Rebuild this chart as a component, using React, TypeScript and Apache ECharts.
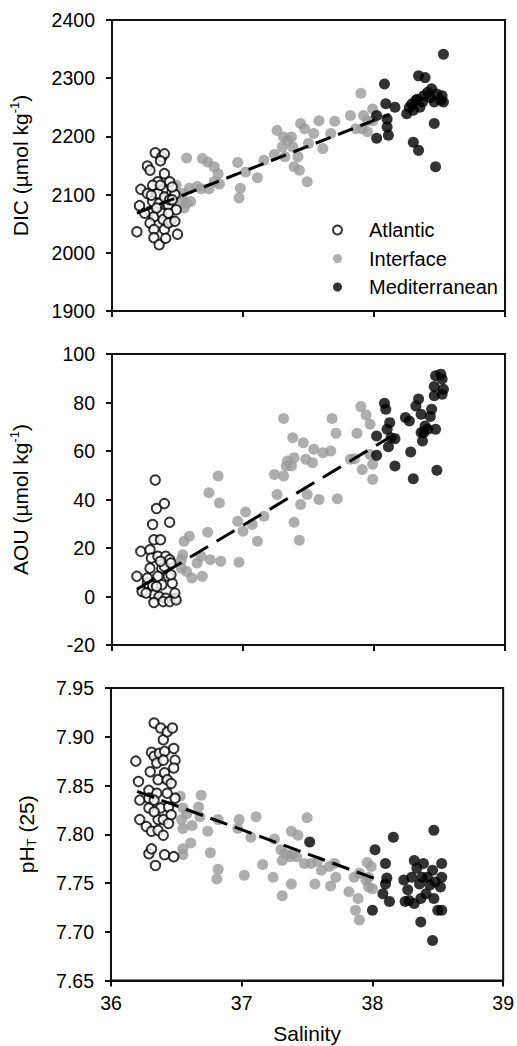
import React, { useEffect, useRef } from "react";
import * as echarts from "echarts";

const salinityTicks = [36, 37, 38, 39];
const groupNames = ["Atlantic", "Interface", "Mediterranean"];

const dicAtlantic = [[36.19,2036],[36.22,2109],[36.21,2081],[36.27,2149],[36.29,2142],[36.33,2172],[36.38,2165],[36.40,2170],[36.37,2158],[36.40,2136],[36.44,2122],[36.35,2122],[36.31,2116],[36.39,2108],[36.27,2102],[36.31,2088],[36.36,2085],[36.43,2082],[36.48,2100],[36.49,2074],[36.29,2071],[36.32,2062],[36.38,2068],[36.39,2057],[36.45,2054],[36.29,2051],[36.32,2040],[36.40,2040],[36.43,2051],[36.32,2026],[36.36,2014],[36.41,2025],[36.50,2032],[36.48,2054],[36.35,2102],[36.40,2096],[36.44,2091],[36.34,2077],[36.43,2068],[36.46,2091],[36.30,2099],[36.37,2116],[36.25,2068],[36.46,2113]];
const dicInterface = [[36.49,2116],[36.57,2163],[36.54,2102],[36.57,2085],[36.53,2091],[36.55,2077],[36.60,2088],[36.59,2111],[36.65,2114],[36.68,2110],[36.69,2162],[36.73,2156],[36.74,2110],[36.78,2148],[36.81,2136],[36.82,2118],[36.78,2122],[36.96,2155],[36.98,2111],[36.97,2094],[37.02,2139],[37.11,2129],[37.16,2159],[37.24,2169],[37.26,2210],[37.30,2182],[37.31,2199],[37.32,2165],[37.37,2199],[37.38,2182],[37.39,2148],[37.43,2142],[37.44,2222],[37.47,2213],[37.49,2122],[37.50,2188],[37.54,2205],[37.58,2227],[37.61,2179],[37.67,2205],[37.70,2226],[37.82,2236],[37.86,2213],[37.90,2274],[37.91,2213],[37.92,2236],[37.95,2208],[37.99,2247],[37.99,2227],[37.95,2227],[37.34,2193],[37.42,2165]];
const dicMediterranean = [[38.08,2290],[38.02,2236],[38.02,2197],[38.09,2256],[38.10,2230],[38.10,2216],[38.11,2202],[38.16,2250],[38.25,2239],[38.27,2250],[38.29,2256],[38.30,2190],[38.34,2176],[38.33,2264],[38.34,2304],[38.37,2259],[38.39,2301],[38.38,2270],[38.41,2276],[38.43,2267],[38.44,2282],[38.46,2259],[38.46,2222],[38.47,2148],[38.48,2273],[38.51,2262],[38.52,2270],[38.53,2259],[38.53,2341],[38.30,2245],[38.35,2250],[38.32,2262]];
const dicFit = [[36.19,2068],[38.12,2238]];

const aouAtlantic = [[36.19,8.3],[36.22,18.6],[36.23,2.1],[36.29,11.7],[36.29,19.3],[36.31,29.7],[36.33,48.0],[36.34,36.3],[36.32,23.4],[36.37,23.4],[36.40,38.3],[36.44,30.6],[36.30,15.9],[36.35,16.6],[36.41,16.6],[36.44,15.2],[36.38,11.7],[36.40,12.4],[36.35,8.3],[36.43,8.3],[36.46,5.5],[36.27,5.5],[36.31,4.4],[36.38,4.8],[36.32,0.7],[36.36,0.0],[36.41,-0.7],[36.48,-0.7],[36.32,-2.5],[36.39,-2.1],[36.44,-2.1],[36.49,-1.4],[36.27,7.6],[36.45,9.0],[36.34,4.1],[36.48,1.4],[36.26,1.4],[36.37,14.5],[36.45,13.8]];
const aouInterface = [[36.53,11.7],[36.55,22.8],[36.59,24.8],[36.54,17.2],[36.53,15.2],[36.57,10.3],[36.61,7.6],[36.65,13.8],[36.68,16.6],[36.69,8.3],[36.73,26.5],[36.74,42.8],[36.75,15.2],[36.81,49.7],[36.82,38.6],[36.83,14.5],[36.97,14.1],[36.96,31.0],[37.00,26.9],[37.02,34.8],[37.07,29.7],[37.11,22.8],[37.16,33.1],[37.24,50.3],[37.26,42.1],[37.31,73.4],[37.31,49.7],[37.33,53.8],[37.34,55.9],[37.37,53.8],[37.38,65.5],[37.39,30.6],[37.39,57.2],[37.43,23.2],[37.44,37.9],[37.46,63.4],[37.48,56.6],[37.49,42.1],[37.53,55.2],[37.54,60.7],[37.58,40.0],[37.61,59.3],[37.67,60.0],[37.68,73.4],[37.71,67.3],[37.72,40.3],[37.82,56.6],[37.87,67.3],[37.90,78.3],[37.91,52.4],[37.94,74.8],[37.97,71.0],[37.99,54.5],[37.97,58.6],[37.99,48.3],[37.85,56.8]];
const aouMediterranean = [[38.02,66.2],[38.02,58.2],[38.08,79.7],[38.09,77.2],[38.10,69.0],[38.11,61.8],[38.12,71.7],[38.16,53.8],[38.16,65.1],[38.13,65.5],[38.24,73.8],[38.27,72.4],[38.28,59.6],[38.30,48.6],[38.32,78.6],[38.34,81.4],[38.36,75.2],[38.36,67.6],[38.37,64.1],[38.39,70.3],[38.41,69.0],[38.44,77.2],[38.46,82.8],[38.46,86.6],[38.47,69.0],[38.48,52.1],[38.47,91.0],[38.51,91.7],[38.52,89.7],[38.53,85.5],[38.52,83.4],[38.43,74.2],[38.38,67.6]];
const aouFit = [[36.19,3],[38.13,66]];

const phAtlantic = [[36.19,7.875],[36.21,7.854],[36.22,7.835],[36.22,7.815],[36.29,7.845],[36.30,7.864],[36.31,7.884],[36.33,7.914],[36.33,7.880],[36.29,7.837],[36.29,7.827],[36.27,7.808],[36.31,7.803],[36.29,7.780],[36.31,7.785],[36.34,7.768],[36.35,7.873],[36.37,7.883],[36.36,7.856],[36.38,7.909],[36.40,7.897],[36.43,7.905],[36.41,7.885],[36.40,7.876],[36.41,7.863],[36.43,7.856],[36.47,7.909],[36.48,7.888],[36.49,7.876],[36.48,7.868],[36.46,7.852],[36.49,7.837],[36.35,7.842],[36.38,7.827],[36.36,7.815],[36.40,7.815],[36.36,7.804],[36.40,7.799],[36.41,7.779],[36.48,7.777],[36.43,7.842],[36.44,7.828],[36.46,7.820],[36.44,7.811],[36.33,7.823],[36.33,7.835]];
const phInterface = [[36.53,7.839],[36.55,7.827],[36.54,7.815],[36.55,7.806],[36.58,7.821],[36.62,7.809],[36.61,7.791],[36.55,7.785],[36.55,7.779],[36.67,7.828],[36.68,7.818],[36.69,7.840],[36.74,7.803],[36.76,7.781],[36.82,7.815],[36.82,7.764],[36.81,7.754],[36.97,7.806],[36.98,7.815],[37.02,7.758],[37.07,7.797],[37.11,7.818],[37.16,7.769],[37.24,7.756],[37.25,7.795],[37.30,7.784],[37.31,7.773],[37.31,7.737],[37.33,7.780],[37.38,7.803],[37.37,7.777],[37.38,7.749],[37.39,7.780],[37.43,7.799],[37.42,7.777],[37.50,7.817],[37.48,7.770],[37.53,7.770],[37.56,7.749],[37.58,7.772],[37.61,7.763],[37.67,7.767],[37.68,7.747],[37.71,7.770],[37.72,7.756],[37.82,7.741],[37.86,7.756],[37.87,7.722],[37.89,7.734],[37.90,7.712],[37.90,7.760],[37.96,7.771],[37.97,7.756],[37.97,7.746],[37.99,7.767],[38.00,7.744],[37.95,7.753]];
const phMediterranean = [[37.52,7.792],[38.02,7.784],[38.00,7.722],[38.10,7.770],[38.11,7.755],[38.10,7.749],[38.08,7.739],[38.13,7.731],[38.16,7.797],[38.24,7.753],[38.27,7.743],[38.25,7.731],[38.30,7.756],[38.32,7.773],[38.32,7.729],[38.34,7.765],[38.36,7.749],[38.37,7.734],[38.37,7.710],[38.39,7.770],[38.41,7.739],[38.42,7.756],[38.44,7.748],[38.46,7.763],[38.47,7.734],[38.47,7.804],[38.46,7.691],[38.48,7.751],[38.50,7.722],[38.52,7.746],[38.53,7.722],[38.53,7.770],[38.53,7.756],[38.38,7.756],[38.28,7.732]];
const phFit = [[36.2,7.844],[38.09,7.751]];

const dicRange = { min: 1900, max: 2400, interval: 100 };
const aouRange = { min: -20, max: 100, interval: 20 };
const phRange = { min: 7.65, max: 7.95, interval: 0.05 };

const FONT = "'Liberation Sans', Arial, Helvetica, sans-serif";
const INK = "#111";
const GRAY = "#9a9a9a";

export default function App() {
  const ref = useRef<HTMLDivElement>(null);
  useEffect(() => {
    if (!ref.current) return;
    const chart = echarts.init(ref.current, undefined, { renderer: "svg" });
    const grids = [
      { left: 111, right: 12, top: 20, height: 291 },
      { left: 111, right: 12, top: 354, height: 291 },
      { left: 111, right: 12, top: 688, height: 292.5 },
    ].map((g) => ({ ...g, show: true, borderColor: INK, borderWidth: 2, backgroundColor: "transparent" }));

    const nameRich = {
      t: { fontSize: 21, fontFamily: FONT, color: "#000", lineHeight: 24 },
      s: { fontSize: 13, fontFamily: FONT, color: "#000", lineHeight: 13, verticalAlign: "top" },
      b: { fontSize: 13, fontFamily: FONT, color: "#000", lineHeight: 13, verticalAlign: "bottom" },
    };

    const xAxes = [0, 1, 2].map((i) => ({
      type: "value",
      gridIndex: i,
      min: salinityTicks[0],
      max: salinityTicks[salinityTicks.length - 1],
      interval: 1,
      axisLine: { show: true, onZero: false, lineStyle: { color: INK, width: 2 } },
      axisTick: { show: true, inside: false, length: 6, lineStyle: { color: INK, width: 2 } },
      axisLabel: {
        show: i === 2,
        margin: 12,
        fontSize: 19.5,
        fontFamily: FONT,
        color: "#000",
      },
      splitLine: { show: false },
      name: i === 2 ? "Salinity" : "",
      nameLocation: "middle",
      nameGap: 42,
      nameTextStyle: { fontSize: 21, fontFamily: FONT, color: "#000" },
    }));

    const yBase = (i: number, r: any, name: string, gap: number, decimals: number) => ({
      type: "value",
      gridIndex: i,
      min: r.min,
      max: r.max,
      interval: r.interval,
      axisLine: { show: true, onZero: false, lineStyle: { color: INK, width: 2 } },
      axisTick: { show: true, inside: false, length: 6, lineStyle: { color: INK, width: 2 } },
      axisLabel: {
        margin: 17,
        fontSize: 19.5,
        fontFamily: FONT,
        color: "#000",
        formatter: (v: number) => v.toFixed(decimals),
      },
      splitLine: { show: false },
      name,
      nameLocation: "middle",
      nameRotate: 90,
      nameGap: gap,
      nameTextStyle: { rich: nameRich },
    });

    const yAxes = [
      yBase(0, dicRange, "{t|DIC (µmol kg}{s|-1}{t|)}", 80, 0),
      yBase(1, aouRange, "{t|AOU (µmol kg}{s|-1}{t|)}", 80, 0),
      yBase(2, phRange, "{t|pH}{b|T}{t| (25)}", 73, 2),
    ];

    const atlStyle = { color: "#fff", borderColor: "#000", borderWidth: 2 };
    const intStyle = { color: GRAY };
    const medStyle = { color: "#000" };

    const panels = [
      [dicAtlantic, dicInterface, dicMediterranean, dicFit, [16, 8]],
      [aouAtlantic, aouInterface, aouMediterranean, aouFit, [21, 10]],
      [phAtlantic, phInterface, phMediterranean, phFit, [18, 8]],
    ];

    const series: any[] = [];
    panels.forEach((p: any, i) => {
      series.push({
        name: groupNames[1], type: "scatter", xAxisIndex: i, yAxisIndex: i,
        data: p[1], symbol: "circle", symbolSize: 11, itemStyle: intStyle, z: 2,
      });
      series.push({
        name: groupNames[0], type: "scatter", xAxisIndex: i, yAxisIndex: i,
        data: p[0], symbol: "circle", symbolSize: 9.5, itemStyle: atlStyle, z: 3,
      });
      series.push({
        name: groupNames[2], type: "scatter", xAxisIndex: i, yAxisIndex: i,
        data: p[2], symbol: "circle", symbolSize: 11, itemStyle: medStyle, z: 4,
      });
      series.push({
        name: "fit" + i, type: "line", xAxisIndex: i, yAxisIndex: i,
        data: p[3], symbol: "none", silent: true, z: 5,
        lineStyle: { color: "#000", width: 3, type: p[4], cap: "butt" },
      });
    });

    chart.setOption({
      animation: false,
      backgroundColor: "#fff",
      grid: grids,
      xAxis: xAxes,
      yAxis: yAxes,
      legend: {
        data: groupNames,
        orient: "vertical",
        left: 327,
        top: 215,
        itemWidth: 9,
        itemHeight: 9,
        itemGap: 8.5,
        selectedMode: false,
        textStyle: { fontSize: 20, fontFamily: FONT, color: "#000", lineHeight: 20, padding: [0, 0, 0, 22] },
      },
      series,
    });
    return () => chart.dispose();
  }, []);
  return (
    <div
      ref={ref}
      style={{ position: "fixed", left: 0, top: 0, width: 517, height: 1046, background: "#fff" }}
    />
  );
}
